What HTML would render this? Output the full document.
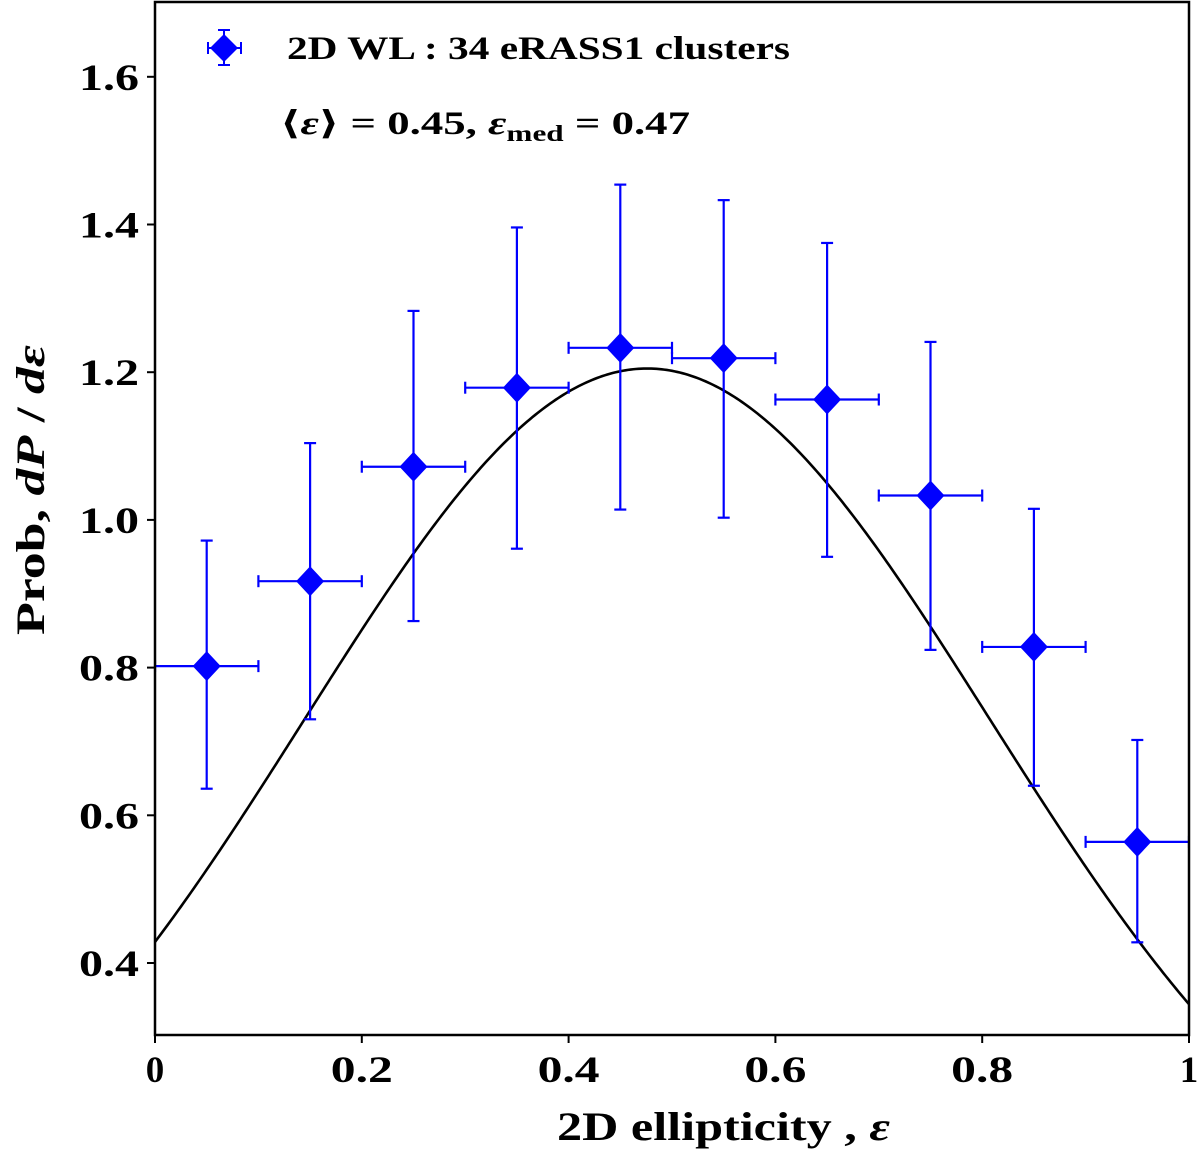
<!DOCTYPE html>
<html><head><meta charset="utf-8">
<style>
html,body{margin:0;padding:0;background:#fff;}
svg{display:block;}
text{font-family:"Liberation Serif","DejaVu Serif",serif;font-weight:bold;fill:#000;}
</style></head>
<body>
<svg id="chart" width="1200" height="1149" viewBox="0 0 1200 1149">
  <g id="plot"></g>
  <g id="axes"></g>
</svg>
<script>
const binCenters = [0.05,0.15,0.25,0.35,0.45,0.55,0.65,0.75,0.85,0.95];
const binHalfWidth = [0.05,0.05,0.05,0.05,0.05,0.05,0.05,0.05,0.05,0.05];
const probValues = [0.802,0.917,1.072,1.179,1.233,1.219,1.163,1.033,0.828,0.564];
const errUpper = [0.972,1.104,1.283,1.396,1.454,1.433,1.375,1.241,1.015,0.702];
const errLower = [0.636,0.730,0.863,0.961,1.014,1.003,0.950,0.824,0.640,0.428];
const fitAmplitude = [1.205];
const fitMean = [0.476];
const fitSigma = [0.331];
const xTicks = [0,0.2,0.4,0.6,0.8,1];
const xTickLabels = ["0","0.2","0.4","0.6","0.8","1"];
const yTicks = [0.4,0.6,0.8,1.0,1.2,1.4,1.6];
const yTickLabels = ["0.4","0.6","0.8","1.0","1.2","1.4","1.6"];

const L=155,R=1189,T=2,B=1035;
const xMin=0,xMax=1;
const X=v=>L+(v-xMin)/(xMax-xMin)*(R-L);
const Y=v=>963-(v-0.4)/0.2*147.7;
const NS="http://www.w3.org/2000/svg";
function mk(tag,attrs,parent){const e=document.createElementNS(NS,tag);for(const k in attrs)e.setAttribute(k,attrs[k]);parent.appendChild(e);return e;}
const plot=document.getElementById('plot');
const axes=document.getElementById('axes');

const defs=mk('defs',{},plot);
const cp=mk('clipPath',{id:'clip'},defs);
mk('rect',{x:L,y:T,width:R-L,height:B-T},cp);
const clipG=mk('g',{'clip-path':'url(#clip)'},plot);

let d='';
for(let i=0;i<=400;i++){const x=i/400;const y=fitAmplitude[0]*Math.exp(-Math.pow(x-fitMean[0],2)/(2*fitSigma[0]*fitSigma[0]));d+=(i?'L':'M')+X(x).toFixed(2)+' '+Y(y).toFixed(2);}
const curve=mk('path',{d:d,fill:'none',stroke:'#000','stroke-width':2.6},clipG);



binCenters.forEach((c,i)=>{
  const g=mk('g',{},clipG);
  
  
  const cx=X(c),cy=Y(probValues[i]);
  const x1=X(c-binHalfWidth[i]),x2=X(c+binHalfWidth[i]);
  const yu=Y(errUpper[i]),yl=Y(errLower[i]);
  const st={stroke:'#0000ff','stroke-width':2.2};
  mk('line',Object.assign({x1:x1,y1:cy,x2:x2,y2:cy},st),g);
  mk('line',Object.assign({x1:cx,y1:yu,x2:cx,y2:yl},st),g);
  mk('line',Object.assign({x1:x1,y1:cy-6,x2:x1,y2:cy+6},st),g);
  mk('line',Object.assign({x1:x2,y1:cy-6,x2:x2,y2:cy+6},st),g);
  mk('line',Object.assign({x1:cx-6,y1:yu,x2:cx+6,y2:yu},st),g);
  mk('line',Object.assign({x1:cx-6,y1:yl,x2:cx+6,y2:yl},st),g);
  mk('path',{d:`M${cx} ${cy-15}L${cx+14} ${cy}L${cx} ${cy+15}L${cx-14} ${cy}Z`,fill:'#0000ff'},g);
});

const frame=mk('rect',{x:L,y:T,width:R-L,height:B-T,fill:'none',stroke:'#000','stroke-width':2.5},axes);



xTicks.forEach((v,i)=>{
  const x=X(v);
  mk('line',{x1:x,y1:B,x2:x,y2:B+8,stroke:'#000','stroke-width':2},axes);
  const lab=xTickLabels[i];
  const attrs={x:x,y:B+47,'font-size':37,'text-anchor':'middle'};
  if(lab.length>1){attrs.textLength=62;attrs.lengthAdjust='spacingAndGlyphs';}
  const t=mk('text',attrs,axes);
  t.textContent=lab;
  
  
});
yTicks.forEach((v,i)=>{
  const y=Y(v);
  mk('line',{x1:L-8,y1:y,x2:L,y2:y,stroke:'#000','stroke-width':2},axes);
  const t=mk('text',{x:L-16,y:y+13,'font-size':37,'text-anchor':'end',textLength:60,lengthAdjust:'spacingAndGlyphs'},axes);
  t.textContent=yTickLabels[i];
  
  
});
</script>
<svg style="position:absolute;left:0;top:0" width="1200" height="1149">
  <text x="557" y="1140" font-size="40" textLength="333" lengthAdjust="spacingAndGlyphs">2D ellipticity , <tspan font-style="italic">ε</tspan></text>
  <text transform="translate(44,635) rotate(-90)" font-size="40" textLength="290" lengthAdjust="spacingAndGlyphs">Prob, <tspan font-style="italic">dP</tspan> / <tspan font-style="italic">dε</tspan></text>
  <g>
    <g stroke="#0000ff" stroke-width="2">
      <line x1="208" y1="48" x2="241" y2="48"/><line x1="208" y1="42" x2="208" y2="54"/><line x1="241" y1="42" x2="241" y2="54"/>
      <line x1="224" y1="30" x2="224" y2="65"/><line x1="218" y1="30" x2="230" y2="30"/><line x1="218" y1="65" x2="230" y2="65"/>
      <path d="M224 34L238 48L224 62L210 48Z" fill="#0000ff" stroke="none"/>
    </g>
    <text x="287" y="59" font-size="33" textLength="503" lengthAdjust="spacingAndGlyphs">2D WL  :  34 eRASS1 clusters</text>
  </g>
  <text x="280" y="134" font-size="33" textLength="410" lengthAdjust="spacingAndGlyphs">⟨<tspan font-style="italic">ε</tspan>⟩ = 0.45, <tspan font-style="italic">ε</tspan><tspan font-size="23" dy="7">med</tspan><tspan dy="-7"> = 0.47</tspan></text>
</svg>
</body></html>
